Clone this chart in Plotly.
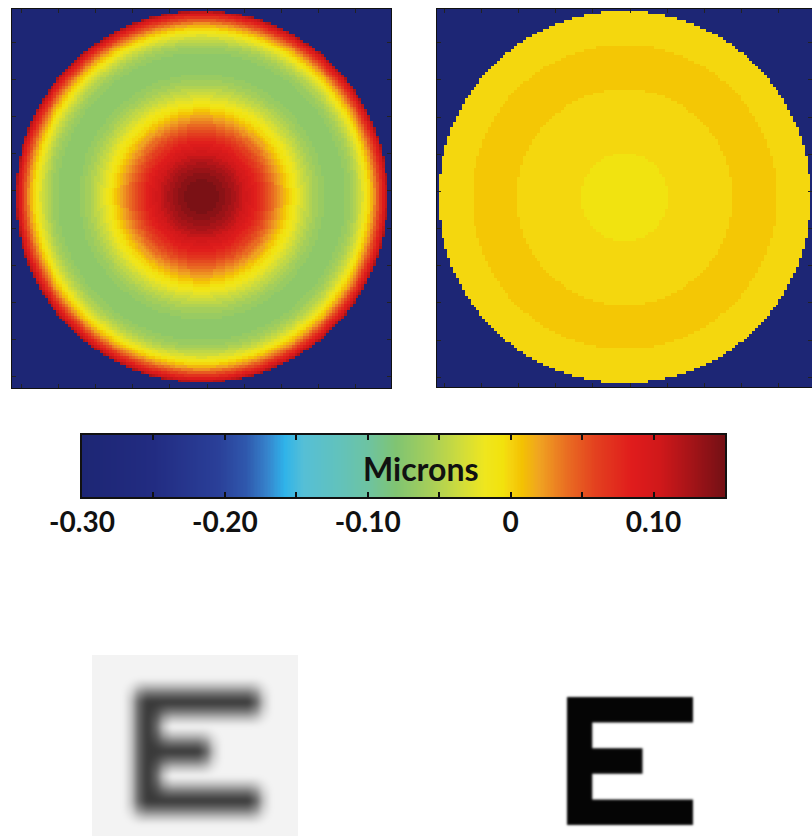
import numpy as np
import plotly.graph_objects as go

# Wavefront error over the pupil, as power series in rho^2 (microns)
uncorrected_coeffs = [0.150, -0.869, 0.844]
corrected_coeffs = [-0.00712, 0.04721, -0.06407, 0.02198]

# Colour scale range and its labels (microns)
scale_min, scale_max = -0.30, 0.15
colormap_levels = 64
tick_values = [-0.30, -0.25, -0.20, -0.15, -0.10, -0.05, 0.0, 0.05, 0.10, 0.15]
tick_labels = ["-0.30", "", "-0.20", "", "-0.10", "", "0", "", "0.10", ""]
colorbar_title = "Microns"

# Tumbling-E optotype on a 5x5 grid
optotype_e = [
    [1, 1, 1, 1, 1],
    [1, 0, 0, 0, 0],
    [1, 1, 1, 0, 0],
    [1, 0, 0, 0, 0],
    [1, 1, 1, 1, 1],
]

W, H = 812, 836

# Colour stops: (microns, colour)
stops = [
    (-0.300, "#1d2674"), (-0.250, "#222c82"), (-0.205, "#2a3f98"),
    (-0.185, "#2f58ad"), (-0.170, "#3684cc"), (-0.158, "#2fb3ea"),
    (-0.145, "#55bfd6"), (-0.120, "#62c2bc"), (-0.100, "#6dc3a2"),
    (-0.080, "#80c472"), (-0.055, "#a8cf58"), (-0.035, "#cfdc3c"),
    (-0.018, "#efe61e"), (-0.005, "#f2e20c"), (0.000, "#f5d30f"),
    (0.008, "#f3c202"), (0.020, "#f0a421"), (0.040, "#e96c22"),
    (0.060, "#e3401f"), (0.085, "#e01c1c"), (0.105, "#d0181a"),
    (0.125, "#a81418"), (0.150, "#741015"),
]
span = scale_max - scale_min
colorscale = [[(v - scale_min) / span, c] for v, c in stops]

# Pupil sampling grid
grid_n = 128
cell = 2.0 / grid_n
pad = 4
coords = (np.arange(-grid_n // 2 - pad, grid_n // 2 + pad) + 0.5) * cell
X, Y = np.meshgrid(coords, coords)
rho2 = X ** 2 + Y ** 2
inside = rho2 <= 1.0
level = span / colormap_levels


def wavefront_map(coeffs):
    w = np.zeros_like(rho2)
    for k, c in enumerate(coeffs):
        w += c * rho2 ** k
    idx = np.clip(np.floor((w - scale_min) / level), 0, colormap_levels - 1)
    w = scale_min + (idx + 0.5) * level
    return np.where(inside, w, scale_min + 0.5 * level)


def optotype_image(nx, ny, x0, y0, unit_w, unit_h, ss=4):
    # supersampled rasterisation of the E
    px = (np.arange(nx * ss) + 0.5) / ss
    py = (np.arange(ny * ss) + 0.5) / ss
    PX, PY = np.meshgrid(px, py)
    col = np.floor((PX - x0) / unit_w).astype(int)
    row = np.floor((PY - y0) / unit_h).astype(int)
    pat = np.array(optotype_e)
    ok = (col >= 0) & (col < 5) & (row >= 0) & (row < 5)
    img = np.zeros(PX.shape)
    img[ok] = pat[row[ok], col[ok]]
    return img.reshape(ny, ss, nx, ss).mean(axis=(1, 3))


def psf(shape, core_sx, core_sy, ring_radius=0.0, ring_sigma=1.0, ring_weight=0.0):
    ny, nx = shape
    dy = np.fft.fftfreq(ny) * ny
    dx = np.fft.fftfreq(nx) * nx
    DX, DY = np.meshgrid(dx, dy)
    core = np.exp(-0.5 * ((DX / core_sx) ** 2 + (DY / core_sy) ** 2))
    core /= core.sum()
    if ring_weight <= 0:
        return core
    r = np.hypot(DX, DY)
    ring = np.exp(-0.5 * ((r - ring_radius) / ring_sigma) ** 2)
    ring /= ring.sum()
    return (1 - ring_weight) * core + ring_weight * ring


def convolve(img, kernel):
    return np.fft.irfft2(np.fft.rfft2(img) * np.fft.rfft2(kernel), s=img.shape)


fig = go.Figure()

# --- wavefront maps ---
for i, coeffs in enumerate([uncorrected_coeffs, corrected_coeffs]):
    ax = "" if i == 0 else "2"
    fig.add_trace(go.Heatmap(
        z=wavefront_map(coeffs), x=coords, y=coords,
        colorscale=colorscale, zmin=scale_min, zmax=scale_max,
        showscale=False, hoverinfo="skip",
        xaxis="x" + ax, yaxis="y" + ax,
    ))

# --- colour bar strip ---
bar_vals = np.linspace(scale_min, scale_max, 451)
fig.add_trace(go.Heatmap(
    z=[bar_vals], x=bar_vals, y=[0],
    colorscale=colorscale, zmin=scale_min, zmax=scale_max,
    showscale=False, hoverinfo="skip", xaxis="x3", yaxis="y3",
))

# --- retinal images of the optotype ---
gray_bg = "#f3f3f3"
lx, ly = 206, 181
blur_img = optotype_image(lx, ly, 43, 35, 25.0, 24.6)
blur_img = convolve(blur_img, psf(blur_img.shape, 3.5, 5.0, 10.0, 2.5, 0.55))
fig.add_trace(go.Heatmap(
    z=blur_img, x=np.arange(lx), y=np.arange(ly),
    colorscale=[[0, gray_bg], [1, "#3a3a3a"]], zmin=0, zmax=1,
    showscale=False, hoverinfo="skip", xaxis="x4", yaxis="y4",
))

rx, ry = 200, 176
sharp_img = optotype_image(rx, ry, 37, 37, 25.2, 25.6)
sharp_img = convolve(sharp_img, psf(sharp_img.shape, 1.1, 1.1))
fig.add_trace(go.Heatmap(
    z=sharp_img, x=np.arange(rx), y=np.arange(ry),
    colorscale=[[0, "#ffffff"], [1, "#050505"]], zmin=0, zmax=1,
    showscale=False, hoverinfo="skip", xaxis="x5", yaxis="y5",
))


def px_dom(a, b, total):
    return [a / total, b / total]


def py_dom(top, bottom):
    return [max(0.0, 1 - bottom / H), min(1.0, 1 - top / H)]


map_axis = dict(showline=True, linecolor="#111", linewidth=1, mirror="allticks",
                ticks="inside", ticklen=4, tickcolor="#222", tickwidth=1,
                showticklabels=False, showgrid=False, zeroline=False,
                dtick=0.2, tick0=0.03)
plain = dict(visible=False, showgrid=False, zeroline=False)

fig.update_layout(
    width=W, height=H,
    margin=dict(l=0, r=0, t=0, b=0, pad=0, autoexpand=False),
    paper_bgcolor="white", plot_bgcolor="white",
    xaxis=dict(map_axis, anchor="y", domain=px_dom(12, 391, W), range=[-1.02, 1.02]),
    yaxis=dict(map_axis, anchor="x", domain=py_dom(9, 388), range=[-1.031, 1.009]),
    xaxis2=dict(map_axis, anchor="y2", domain=px_dom(437, 812, W), range=[-1.009, 1.009]),
    yaxis2=dict(map_axis, anchor="x2", domain=py_dom(9, 387), range=[-1.023, 1.012]),
    xaxis3=dict(anchor="y3", domain=px_dom(82, 725, W), range=[scale_min, scale_max],
                tickvals=tick_values, ticktext=tick_labels,
                ticks="inside", ticklen=5, tickwidth=1.5, tickcolor="#111",
                showline=True, linecolor="#111", linewidth=1.5, mirror="ticks",
                showgrid=False, zeroline=False, automargin=False,
                tickfont=dict(family="Lato", size=28, color="#111", weight="bold")),
    yaxis3=dict(anchor="x3", domain=py_dom(435, 497), range=[-0.5, 0.5], showline=True,
                linecolor="#111", linewidth=1.5, mirror=True, ticks="",
                showticklabels=False, showgrid=False, zeroline=False),
    xaxis4=dict(plain, anchor="y4", domain=px_dom(92, 92 + lx, W), range=[-0.5, lx - 0.5]),
    yaxis4=dict(plain, anchor="x4", domain=py_dom(655, 655 + ly), range=[ly - 0.5, -0.5]),
    xaxis5=dict(plain, anchor="y5", domain=px_dom(530, 530 + rx, W), range=[-0.5, rx - 0.5]),
    yaxis5=dict(plain, anchor="x5", domain=py_dom(660, 660 + ry), range=[ry - 0.5, -0.5]),
    annotations=[dict(
        text="<b>" + colorbar_title + "</b>", x=421 / W, y=1 - 468 / H,
        xref="paper", yref="paper", xanchor="center", yanchor="middle",
        showarrow=False, font=dict(family="Lato", size=32, color="#111"),
    )],
)

fig.write_html("out.html", config={"displayModeBar": False})
